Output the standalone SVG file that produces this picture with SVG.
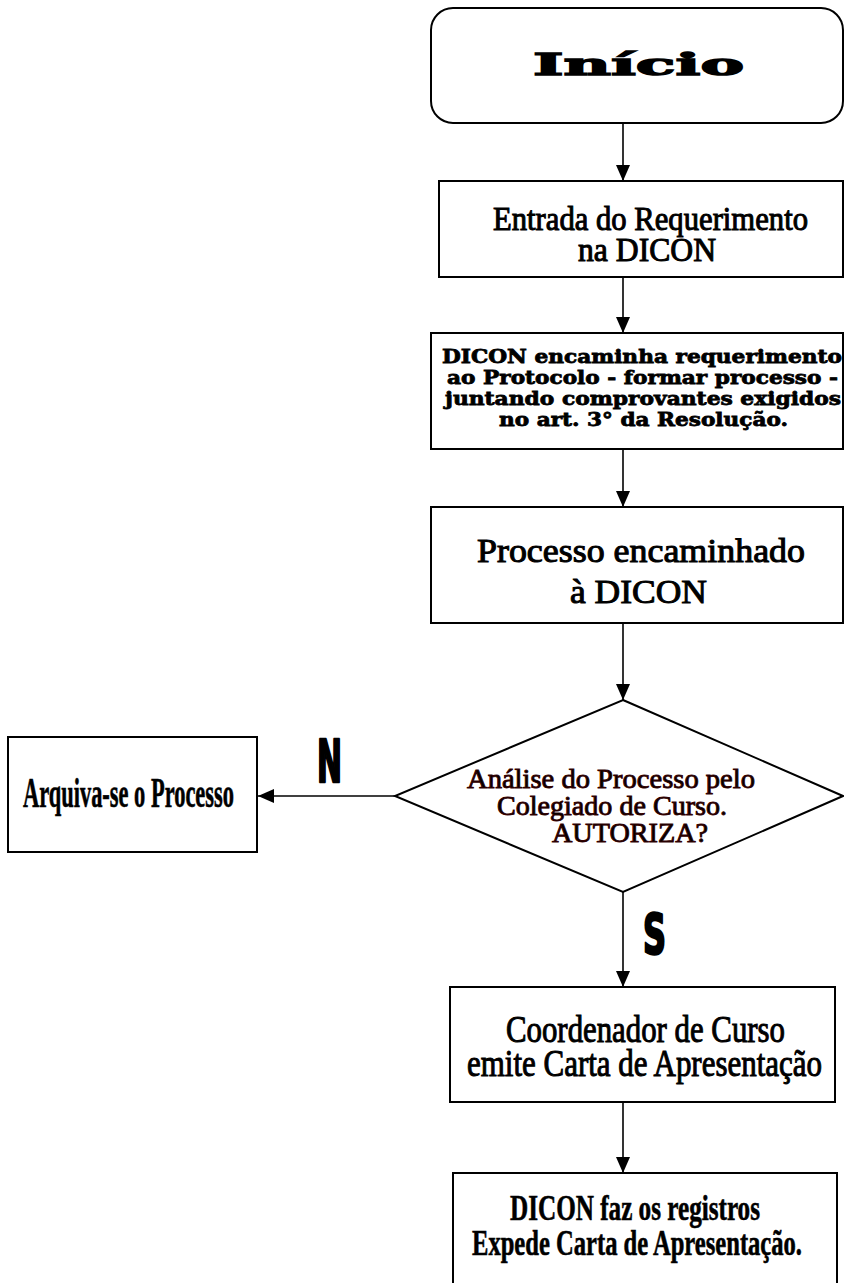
<svg xmlns="http://www.w3.org/2000/svg" width="844" height="1283" viewBox="0 0 844 1283">
<style>
.box{fill:#fff;stroke:#000;stroke-width:2}
.con{fill:none;stroke:#000;stroke-width:1.6}
.wide{font-family:"DejaVu Serif","Liberation Serif",serif;font-weight:bold;fill:#000;stroke:#000;stroke-width:0.8}
.big{stroke-width:1.4}
.tr{font-family:"Liberation Serif","Times New Roman",serif;fill:#000;stroke:#000;stroke-width:1}
.trb{font-family:"Liberation Serif","Times New Roman",serif;font-weight:bold;fill:#000;stroke:#000;stroke-width:0.6}
.dia{font-family:"Liberation Serif","Times New Roman",serif;fill:#000;stroke:#300;stroke-width:0.9}
.lbl{font-family:"DejaVu Sans Condensed","DejaVu Sans","Liberation Sans",sans-serif;font-weight:bold;fill:#000;stroke:#000;stroke-width:2.5;stroke-linejoin:round}
</style>
<defs>
<marker id="arr" markerUnits="userSpaceOnUse" markerWidth="16" markerHeight="14" refX="16" refY="7" orient="auto">
<path d="M0,0 L16,7 L0,14 z" fill="#000"/>
</marker>
</defs>
<rect width="844" height="1283" fill="#fff"/>
<g id="connectors">
<line class="con" x1="623" y1="123" x2="623" y2="181" marker-end="url(#arr)"/>
<line class="con" x1="623" y1="277" x2="623" y2="333" marker-end="url(#arr)"/>
<line class="con" x1="623" y1="449" x2="623" y2="507" marker-end="url(#arr)"/>
<line class="con" x1="623" y1="623" x2="623" y2="700" marker-end="url(#arr)"/>
<line class="con" x1="395" y1="796" x2="258" y2="796" marker-end="url(#arr)"/>
<line class="con" x1="623" y1="892" x2="623" y2="987" marker-end="url(#arr)"/>
<line class="con" x1="623" y1="1102" x2="623" y2="1173" marker-end="url(#arr)"/>
<text class="lbl" x="317" y="782" font-size="58" textLength="25" lengthAdjust="spacingAndGlyphs">N</text>
<text class="lbl" x="643" y="953" font-size="56" textLength="23" lengthAdjust="spacingAndGlyphs">S</text>
</g>
<g id="inicio">
<rect class="box" x="431" y="8" width="412" height="115" rx="22" ry="22"/>
<text class="wide big" x="533" y="75" font-size="30" textLength="211" lengthAdjust="spacingAndGlyphs">Início</text>
</g>
<g id="entrada">
<rect class="box" x="439" y="181" width="404" height="96"/>
<text class="tr" x="493" y="230" font-size="33" textLength="315" lengthAdjust="spacingAndGlyphs">Entrada do Requerimento</text>
<text class="tr" x="578" y="261" font-size="33" textLength="138" lengthAdjust="spacingAndGlyphs">na DICON</text>
</g>
<g id="encaminha">
<rect class="box" x="431" y="333" width="412" height="116"/>
<text class="wide" x="442" y="363" font-size="19" textLength="400" lengthAdjust="spacingAndGlyphs">DICON encaminha requerimento</text>
<text class="wide" x="447" y="384" font-size="19" textLength="391" lengthAdjust="spacingAndGlyphs">ao Protocolo - formar processo -</text>
<text class="wide" x="445" y="405" font-size="19" textLength="396" lengthAdjust="spacingAndGlyphs">juntando comprovantes exigidos</text>
<text class="wide" x="499" y="426" font-size="19" textLength="289" lengthAdjust="spacingAndGlyphs">no art. 3° da Resolução.</text>
</g>
<g id="processo">
<rect class="box" x="431" y="507" width="412" height="116"/>
<text class="tr" x="477" y="562" font-size="33" textLength="328" lengthAdjust="spacingAndGlyphs">Processo encaminhado</text>
<text class="tr" x="570" y="603" font-size="33" textLength="137" lengthAdjust="spacingAndGlyphs">à DICON</text>
</g>
<g id="analise">
<polygon class="box" points="623,700 843,796 623,892 395,796"/>
<text class="dia" x="467" y="788" font-size="27" textLength="288" lengthAdjust="spacingAndGlyphs">Análise do Processo pelo</text>
<text class="dia" x="497" y="815" font-size="27" textLength="230" lengthAdjust="spacingAndGlyphs">Colegiado de Curso.</text>
<text class="dia" x="552" y="842" font-size="27" textLength="156" lengthAdjust="spacingAndGlyphs">AUTORIZA?</text>
</g>
<g id="arquiva">
<rect class="box" x="8" y="737" width="249" height="115"/>
<text class="trb" x="23" y="807" font-size="42" textLength="211" lengthAdjust="spacingAndGlyphs">Arquiva-se o Processo</text>
</g>
<g id="coordenador">
<rect class="box" x="450" y="987" width="385" height="115"/>
<text class="tr" x="506" y="1042" font-size="37" textLength="279" lengthAdjust="spacingAndGlyphs">Coordenador de Curso</text>
<text class="tr" x="467" y="1076" font-size="37" textLength="355" lengthAdjust="spacingAndGlyphs">emite Carta de Apresentação</text>
</g>
<g id="dicon-registros">
<rect class="box" x="453" y="1173" width="384" height="130"/>
<text class="trb" x="510" y="1220" font-size="36" textLength="250" lengthAdjust="spacingAndGlyphs">DICON faz os registros</text>
<text class="trb" x="472" y="1255" font-size="36" textLength="330" lengthAdjust="spacingAndGlyphs">Expede Carta de Apresentação.</text>
</g>
</svg>
